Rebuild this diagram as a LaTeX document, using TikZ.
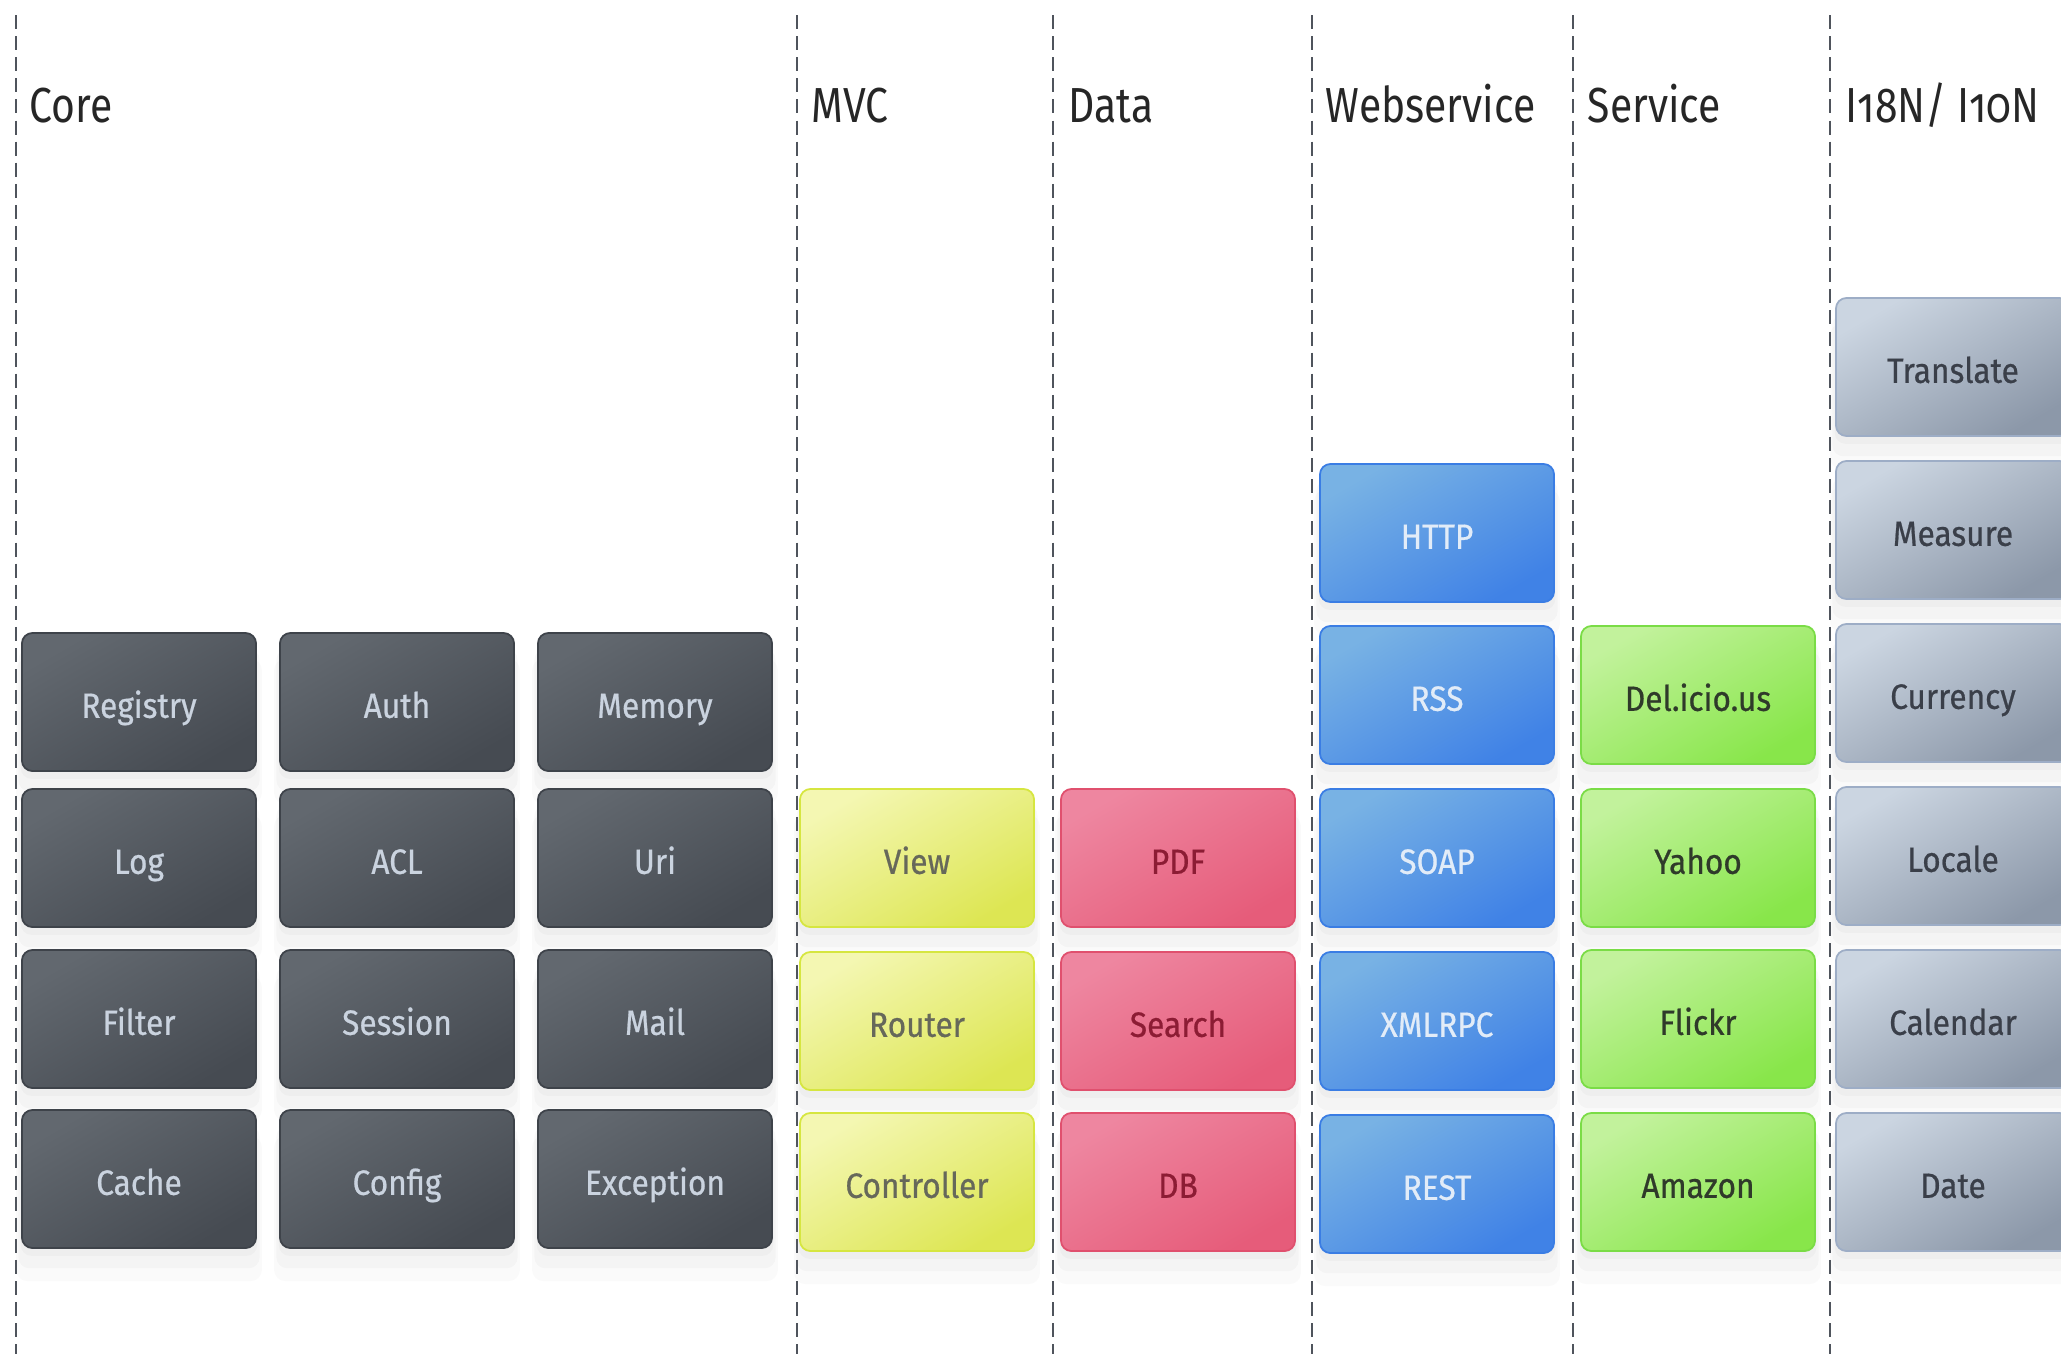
\documentclass[tikz,border=0pt]{standalone}
\usepackage{fontspec}
\setmainfont{Fira Sans}[Numbers=OldStyle]
\newfontfamily\hdrfont{Fira Sans}[FakeStretch=0.83, Numbers=OldStyle]
\newfontfamily\boxfont{Fira Sans}[FakeStretch=0.9, FakeBold=0.6]
\usetikzlibrary{shadows}
\definecolor{coretop}{HTML}{62686f}
\definecolor{corebot}{HTML}{464b52}
\definecolor{coreedge}{HTML}{3e434a}
\definecolor{coretext}{HTML}{cad3df}
\definecolor{mvctop}{HTML}{f4f7b2}
\definecolor{mvcbot}{HTML}{dde653}
\definecolor{mvcedge}{HTML}{d6e640}
\definecolor{mvctext}{HTML}{66685a}
\definecolor{datatop}{HTML}{ee86a0}
\definecolor{databot}{HTML}{e65c7a}
\definecolor{dataedge}{HTML}{e0506e}
\definecolor{datatext}{HTML}{8c1c34}
\definecolor{wstop}{HTML}{78b2e4}
\definecolor{wsbot}{HTML}{4082e6}
\definecolor{wsedge}{HTML}{3a7de4}
\definecolor{wstext}{HTML}{e2ecf8}
\definecolor{svctop}{HTML}{c2f29c}
\definecolor{svcbot}{HTML}{88e64a}
\definecolor{svcedge}{HTML}{7adc46}
\definecolor{svctext}{HTML}{2f3a2a}
\definecolor{intltop}{HTML}{cbd5e1}
\definecolor{intlbot}{HTML}{8c98a9}
\definecolor{intledge}{HTML}{9dadc6}
\definecolor{intltext}{HTML}{3a3f49}
\definecolor{rule}{HTML}{4f545c}

\begin{document}
\begin{tikzpicture}[x=0.01cm, y=-0.01cm,
  box/.style={rounded corners=3pt, minimum width=2.34cm, minimum height=1.38cm, inner sep=0pt,
    line width=0.5pt, font=\boxfont\fontsize{10}{12}\selectfont, text height=0.95em, text depth=0.05em,
    drop shadow={opacity=0.05, shadow xshift=0pt, shadow yshift=-2pt, shadow scale=1.01},
    drop shadow={opacity=0.05, shadow xshift=0pt, shadow yshift=-5pt, shadow scale=1.03},
    drop shadow={opacity=0.04, shadow xshift=0pt, shadow yshift=-8pt, shadow scale=1.05}},
  core/.style={box, draw=coreedge, top color=coretop, bottom color=corebot, shading angle=30, text=coretext},
  mvc/.style={box, draw=mvcedge, top color=mvctop, bottom color=mvcbot, shading angle=30, text=mvctext},
  data/.style={box, draw=dataedge, top color=datatop, bottom color=databot, shading angle=30, text=datatext},
  ws/.style={box, draw=wsedge, top color=wstop, bottom color=wsbot, shading angle=30, text=wstext},
  svc/.style={box, draw=svcedge, top color=svctop, bottom color=svcbot, shading angle=30, text=svctext},
  intl/.style={box, draw=intledge, top color=intltop, bottom color=intlbot, shading angle=30, text=intltext},
  hdr/.style={anchor=base west, inner sep=0pt, font=\hdrfont\fontsize{14}{16}\selectfont, text=black!85},
  sep/.style={draw=rule, line width=0.75pt, dash pattern=on 4pt off 2pt}
]
  \clip (0,0) rectangle (2061,1354);

  % column rules
  \foreach \x in {16,797,1053,1312,1573,1830}
    \draw[sep] (\x,15) -- (\x,1354);

  % headers
  \node[hdr] (hcore) at (29,122) {Core};
  \node[hdr] (hmvc) at (811,122) {MVC};
  \node[hdr] (hdata) at (1068,122) {Data};
  \node[hdr] (hws) at (1325,122) {Webservice};
  \node[hdr] (hsvc) at (1587,122) {Service};
  \node[hdr] (hintl) at (1845,122) {I18N/ I10N};

  % core
  \node[core] (registry) at (139,702) {Registry};
  \node[core] (auth) at (397,702) {Auth};
  \node[core] (memory) at (655,702) {Memory};
  \node[core] (log) at (139,858) {Log};
  \node[core] (acl) at (397,858) {ACL};
  \node[core] (uri) at (655,858) {Uri};
  \node[core] (filter) at (139,1019) {Filter};
  \node[core] (session) at (397,1019) {Session};
  \node[core] (mail) at (655,1019) {Mail};
  \node[core] (cache) at (139,1179) {Cache};
  \node[core] (config) at (397,1179) {Config};
  \node[core] (exception) at (655,1179) {Exception};

  % mvc
  \node[mvc] (view) at (917,858) {View};
  \node[mvc] (router) at (917,1021) {Router};
  \node[mvc] (controller) at (917,1182) {Controller};

  % data
  \node[data] (pdf) at (1178,858) {PDF};
  \node[data] (search) at (1178,1021) {Search};
  \node[data] (db) at (1178,1182) {DB};

  % webservice
  \node[ws] (http) at (1437,533) {HTTP};
  \node[ws] (rss) at (1437,695) {RSS};
  \node[ws] (soap) at (1437,858) {SOAP};
  \node[ws] (xmlrpc) at (1437,1021) {XMLRPC};
  \node[ws] (rest) at (1437,1184) {REST};

  % service
  \node[svc] (delicious) at (1698,695) {Del.icio.us};
  \node[svc] (yahoo) at (1698,858) {Yahoo};
  \node[svc] (flickr) at (1698,1019) {Flickr};
  \node[svc] (amazon) at (1698,1182) {Amazon};

  % i18n
  \node[intl] (translate) at (1953,367) {Translate};
  \node[intl] (measure) at (1953,530) {Measure};
  \node[intl] (currency) at (1953,693) {Currency};
  \node[intl] (locale) at (1953,856) {Locale};
  \node[intl] (calendar) at (1953,1019) {Calendar};
  \node[intl] (date) at (1953,1182) {Date};
\end{tikzpicture}
\end{document}
